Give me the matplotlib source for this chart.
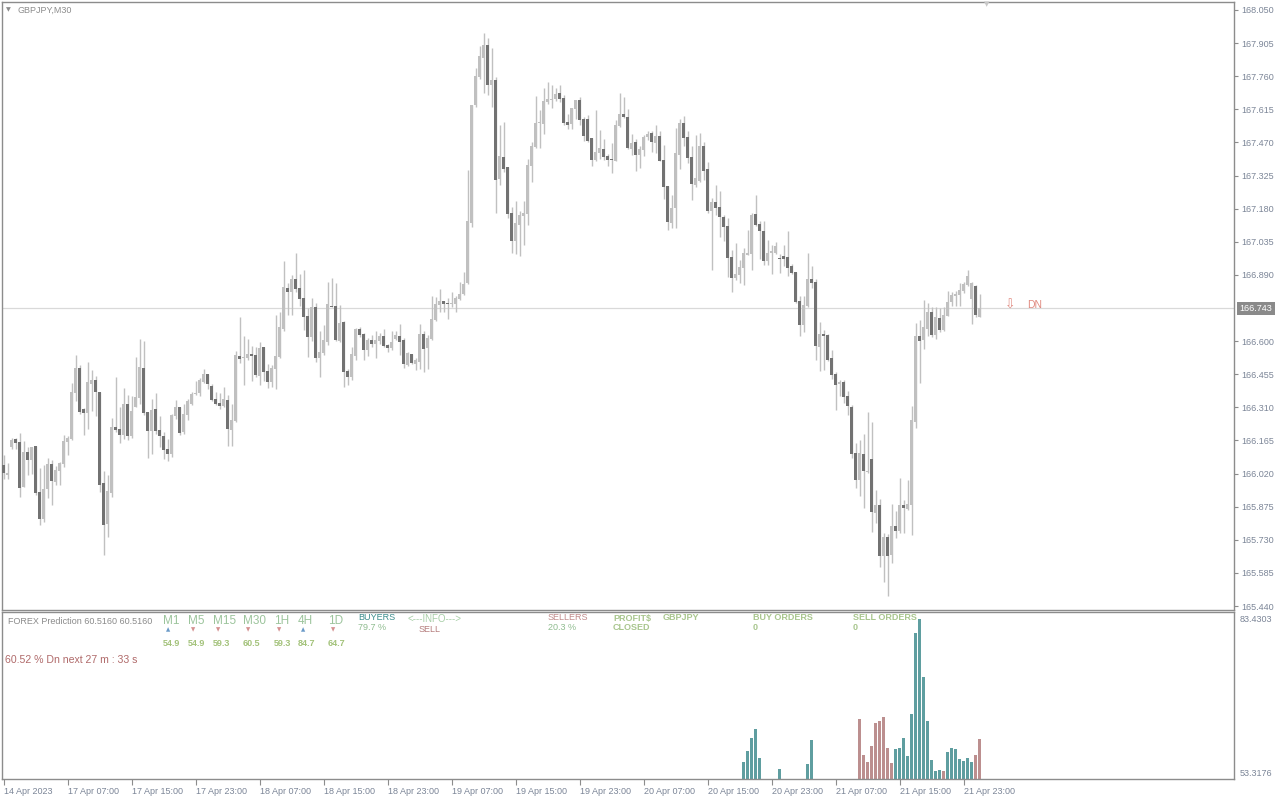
import numpy as np
import matplotlib
matplotlib.use("Agg")
import matplotlib.pyplot as plt

plt.rcParams['font.family'] = ['Liberation Sans', 'DejaVu Sans']

# GBPJPY M30 candles (index 0 = 14 Apr 23:00)
opens = [
    166.057, 166.015, 166.138, 166.173, 166.158, 165.962, 166.114, 166.079, 166.141, 165.939,
    165.822, 165.954, 166.062, 165.983, 166.032, 166.062, 166.159, 166.171, 166.374, 166.482,
    166.303, 166.285, 166.412, 166.430, 166.377, 165.978, 165.799, 165.936, 166.224, 166.215,
    166.189, 166.324, 166.184, 166.311, 166.351, 166.482, 166.289, 166.206, 166.303, 166.211,
    166.184, 166.127, 166.105, 166.272, 166.311, 166.202, 166.276, 166.324, 166.368, 166.373,
    166.421, 166.456, 166.403, 166.346, 166.329, 166.316, 166.342, 166.211, 166.250, 166.535,
    166.527, 166.526, 166.543, 166.539, 166.448, 166.574, 166.469, 166.422, 166.477, 166.530,
    166.652, 166.832, 166.816, 166.871, 166.832, 166.788, 166.709, 166.617, 166.749, 166.527,
    166.549, 166.597, 166.753, 166.753, 166.600, 166.683, 166.469, 166.444, 166.534, 166.652,
    166.631, 166.561, 166.604, 166.588, 166.600, 166.622, 166.582, 166.569, 166.609, 166.622,
    166.604, 166.495, 166.543, 166.499, 166.508, 166.631, 166.569, 166.609, 166.692, 166.758,
    166.775, 166.766, 166.763, 166.763, 166.784, 166.806, 166.853, 167.117, 167.634, 167.756,
    167.841, 167.896, 167.721, 167.743, 167.309, 167.406, 167.362, 167.161, 167.038, 167.108,
    167.147, 167.156, 167.366, 167.450, 167.555, 167.550, 167.647, 167.657, 167.660, 167.686,
    167.664, 167.559, 167.550, 167.616, 167.656, 167.572, 167.572, 167.489, 167.393, 167.423,
    167.441, 167.410, 167.397, 167.388, 167.542, 167.594, 167.581, 167.441, 167.472, 167.415,
    167.437, 167.493, 167.511, 167.467, 167.498, 167.393, 167.279, 167.117, 167.182, 167.415,
    167.555, 167.493, 167.406, 167.283, 167.301, 167.454, 167.353, 167.169, 167.209, 167.187,
    167.143, 167.104, 166.968, 166.877, 166.890, 166.921, 166.979, 166.982, 167.157, 167.115,
    167.083, 166.951, 166.986, 166.986, 166.964, 166.973, 166.969, 166.929, 166.903, 166.776,
    166.671, 166.754, 166.872, 166.859, 166.575, 166.631, 166.627, 166.526, 166.456, 166.412,
    166.421, 166.360, 166.312, 166.110, 165.992, 166.106, 166.027, 166.084, 165.848, 165.883,
    165.659, 165.742, 165.664, 165.791, 165.769, 165.883, 165.865, 165.883, 166.246, 166.623,
    166.605, 166.653, 166.728, 166.627, 166.702, 166.649, 166.710, 166.772, 166.798, 166.802,
    166.820, 166.846, 166.785, 166.842, 166.707,
]
highs = [
    166.101, 166.065, 166.174, 166.177, 166.197, 166.162, 166.138, 166.138, 166.141, 166.043,
    166.057, 166.089, 166.079, 166.053, 166.072, 166.189, 166.184, 166.416, 166.539, 166.497,
    166.307, 166.508, 166.473, 166.447, 166.377, 166.031, 166.014, 166.265, 166.443, 166.313,
    166.395, 166.364, 166.360, 166.530, 166.609, 166.600, 166.289, 166.346, 166.373, 166.272,
    166.202, 166.171, 166.281, 166.342, 166.311, 166.324, 166.346, 166.377, 166.425, 166.438,
    166.478, 166.456, 166.412, 166.377, 166.373, 166.399, 166.364, 166.324, 166.557, 166.706,
    166.622, 166.609, 166.579, 166.575, 166.597, 166.574, 166.502, 166.495, 166.714, 166.728,
    166.950, 166.853, 166.889, 166.985, 166.892, 166.911, 166.743, 166.787, 166.769, 166.644,
    166.670, 166.857, 166.877, 166.855, 166.758, 166.690, 166.480, 166.575, 166.658, 166.661,
    166.635, 166.615, 166.626, 166.644, 166.634, 166.652, 166.587, 166.644, 166.644, 166.673,
    166.612, 166.553, 166.543, 166.524, 166.674, 166.644, 166.626, 166.798, 166.794, 166.828,
    166.775, 166.787, 166.816, 166.798, 166.860, 166.901, 167.349, 167.634, 167.794, 167.892,
    167.948, 167.926, 167.882, 167.758, 167.546, 167.561, 167.362, 167.188, 167.213, 167.169,
    167.213, 167.397, 167.473, 167.674, 167.612, 167.707, 167.734, 167.721, 167.707, 167.721,
    167.677, 167.593, 167.622, 167.656, 167.669, 167.582, 167.590, 167.489, 167.612, 167.524,
    167.485, 167.419, 167.466, 167.568, 167.686, 167.669, 167.616, 167.507, 167.485, 167.455,
    167.502, 167.520, 167.520, 167.546, 167.520, 167.461, 167.280, 167.239, 167.534, 167.571,
    167.585, 167.520, 167.455, 167.502, 167.511, 167.473, 167.385, 167.225, 167.283, 167.258,
    167.152, 167.140, 166.999, 167.029, 166.956, 167.007, 167.087, 167.160, 167.240, 167.124,
    167.126, 167.043, 167.021, 167.036, 166.982, 167.021, 167.083, 166.938, 166.903, 166.798,
    166.798, 166.986, 166.929, 166.872, 166.684, 166.649, 166.631, 166.561, 166.465, 166.430,
    166.430, 166.382, 166.320, 166.153, 166.167, 166.193, 166.288, 166.246, 165.948, 165.909,
    165.760, 165.755, 165.887, 165.856, 166.001, 165.904, 165.992, 166.316, 166.678, 166.693,
    166.780, 166.767, 166.748, 166.748, 166.745, 166.751, 166.820, 166.815, 166.820, 166.853,
    166.861, 166.912, 166.861, 166.845, 166.807,
]
lows = [
    165.995, 165.995, 166.127, 166.127, 165.919, 165.960, 166.014, 166.018, 165.926, 165.795,
    165.809, 165.914, 165.882, 165.968, 165.971, 166.050, 166.103, 166.167, 166.338, 166.281,
    166.189, 166.216, 166.295, 166.273, 165.940, 165.665, 165.743, 165.919, 166.202, 166.155,
    166.171, 166.167, 166.177, 166.311, 166.324, 166.276, 166.088, 166.105, 166.193, 166.136,
    166.084, 166.075, 166.092, 166.259, 166.189, 166.193, 166.254, 166.320, 166.364, 166.360,
    166.416, 166.390, 166.338, 166.320, 166.303, 166.311, 166.141, 166.141, 166.246, 166.506,
    166.408, 166.517, 166.425, 166.444, 166.407, 166.425, 166.396, 166.400, 166.390, 166.524,
    166.644, 166.714, 166.714, 166.816, 166.755, 166.648, 166.531, 166.600, 166.509, 166.444,
    166.539, 166.585, 166.749, 166.600, 166.597, 166.400, 166.407, 166.429, 166.517, 166.619,
    166.517, 166.536, 166.574, 166.524, 166.587, 166.574, 166.552, 166.561, 166.604, 166.539,
    166.483, 166.492, 166.499, 166.473, 166.480, 166.463, 166.480, 166.604, 166.688, 166.728,
    166.728, 166.699, 166.750, 166.728, 166.778, 166.801, 166.850, 167.101, 167.626, 167.750,
    167.685, 167.677, 167.626, 167.159, 167.283, 167.342, 167.140, 166.988, 166.980, 166.974,
    167.020, 167.108, 167.298, 167.447, 167.447, 167.509, 167.638, 167.622, 167.653, 167.648,
    167.546, 167.531, 167.531, 167.572, 167.546, 167.476, 167.473, 167.368, 167.388, 167.397,
    167.393, 167.368, 167.337, 167.388, 167.539, 167.575, 167.441, 167.415, 167.346, 167.358,
    167.412, 167.480, 167.428, 167.425, 167.388, 167.222, 167.086, 167.096, 167.096, 167.353,
    167.455, 167.380, 167.218, 167.276, 167.298, 167.305, 167.159, 166.911, 167.152, 167.057,
    167.038, 166.882, 166.816, 166.868, 166.853, 166.846, 166.977, 166.912, 167.102, 166.959,
    166.934, 166.934, 166.894, 166.982, 166.900, 166.929, 166.886, 166.894, 166.769, 166.623,
    166.640, 166.751, 166.832, 166.518, 166.469, 166.474, 166.512, 166.434, 166.299, 166.360,
    166.328, 166.277, 166.090, 165.957, 165.922, 165.869, 166.021, 165.764, 165.802, 165.609,
    165.545, 165.484, 165.627, 165.737, 165.761, 165.758, 165.861, 165.751, 166.218, 166.415,
    166.566, 166.623, 166.620, 166.610, 166.642, 166.646, 166.710, 166.754, 166.754, 166.754,
    166.811, 166.842, 166.675, 166.707, 166.707,
]
closes = [
    166.024, 166.024, 166.167, 166.155, 165.957, 166.114, 166.079, 166.136, 165.936, 165.822,
    165.952, 166.062, 165.989, 166.035, 166.068, 166.162, 166.176, 166.377, 166.482, 166.289,
    166.285, 166.421, 166.430, 166.378, 165.971, 165.795, 165.945, 166.224, 166.211, 166.189,
    166.324, 166.184, 166.294, 166.355, 166.487, 166.285, 166.206, 166.298, 166.206, 166.184,
    166.123, 166.105, 166.276, 166.311, 166.197, 166.281, 166.338, 166.368, 166.373, 166.430,
    166.456, 166.412, 166.342, 166.324, 166.316, 166.346, 166.215, 166.254, 166.539, 166.523,
    166.530, 166.543, 166.534, 166.451, 166.571, 166.466, 166.422, 166.483, 166.534, 166.661,
    166.836, 166.816, 166.874, 166.828, 166.784, 166.705, 166.617, 166.749, 166.527, 166.552,
    166.604, 166.762, 166.749, 166.604, 166.679, 166.466, 166.444, 166.543, 166.652, 166.626,
    166.561, 166.604, 166.588, 166.604, 166.622, 166.578, 166.569, 166.596, 166.626, 166.596,
    166.499, 166.547, 166.505, 166.517, 166.631, 166.565, 166.613, 166.696, 166.762, 166.775,
    166.763, 166.763, 166.766, 166.787, 166.807, 166.850, 167.126, 167.634, 167.761, 167.848,
    167.896, 167.721, 167.743, 167.305, 167.410, 167.353, 167.156, 167.038, 167.117, 167.152,
    167.161, 167.371, 167.454, 167.555, 167.559, 167.651, 167.660, 167.660, 167.682, 167.660,
    167.555, 167.546, 167.620, 167.656, 167.568, 167.498, 167.476, 167.393, 167.428, 167.445,
    167.406, 167.393, 167.393, 167.546, 167.594, 167.581, 167.445, 167.467, 167.415, 167.441,
    167.493, 167.507, 167.472, 167.498, 167.388, 167.274, 167.121, 167.182, 167.423, 167.555,
    167.489, 167.401, 167.288, 167.314, 167.454, 167.345, 167.169, 167.209, 167.182, 167.143,
    167.099, 166.963, 166.876, 166.894, 166.925, 166.986, 166.986, 167.153, 167.110, 167.084,
    166.951, 166.986, 166.996, 167.018, 166.961, 166.960, 166.921, 166.899, 166.772, 166.671,
    166.759, 166.872, 166.856, 166.579, 166.631, 166.623, 166.518, 166.452, 166.408, 166.421,
    166.356, 166.316, 166.106, 165.992, 166.110, 166.031, 166.031, 165.852, 165.883, 165.659,
    165.742, 165.659, 165.791, 165.769, 165.883, 165.869, 165.887, 166.255, 166.623, 166.601,
    166.662, 166.728, 166.627, 166.706, 166.649, 166.715, 166.772, 166.802, 166.807, 166.824,
    166.850, 166.886, 166.855, 166.715, 166.743,
]

price_ticks = [168.050, 167.905, 167.760, 167.615, 167.470, 167.325, 167.180, 167.035,
               166.890, 166.600, 166.455, 166.310, 166.165, 166.020, 165.875, 165.730,
               165.585, 165.440]
last_price = 166.743

time_labels = ["14 Apr 2023", "17 Apr 07:00", "17 Apr 15:00", "17 Apr 23:00", "18 Apr 07:00",
               "18 Apr 15:00", "18 Apr 23:00", "19 Apr 07:00", "19 Apr 15:00", "19 Apr 23:00",
               "20 Apr 07:00", "20 Apr 15:00", "20 Apr 23:00", "21 Apr 07:00", "21 Apr 15:00",
               "21 Apr 23:00"]
bars_per_label = 16

# indicator histogram (lower window)
hist_index = [185, 186, 187, 188, 189, 194, 201, 202,
              214, 215, 216, 217, 218, 219, 220, 221, 222,
              223, 224, 225, 226, 227, 228, 229, 230, 231, 232, 233, 234, 235,
              236, 237, 238, 239, 240, 241, 242, 243, 244]
hist_value = [55.48, 57.65, 60.21, 61.78, 56.27, 54.10, 55.09, 59.81,
              63.75, 56.86, 55.48, 58.63, 62.96, 63.35, 64.14, 58.24, 55.29,
              58.04, 58.24, 60.21, 56.66, 64.73, 80.67, 83.43, 72.00, 63.35, 55.88, 53.71, 53.91, 53.71,
              57.45, 58.24, 58.04, 56.07, 55.68, 56.27, 55.48, 56.86, 60.01]
hist_side = ["b"] * 8 + ["s"] * 9 + ["b"] * 12 + ["s"] + ["b"] * 7 + ["s", "s"]
hist_ticks = [83.4303, 53.3176]

tf_names = ["M1", "M5", "M15", "M30", "1H", "4H", "1D"]
tf_dir = ["up", "dn", "dn", "dn", "dn", "up", "dn"]
tf_score = ["54.9", "54.9", "59.3", "60.5", "59.3", "84.7", "64.7"]

W, H = 1280, 800
def fx(x):
    return x / W
def fy(y):
    return 1 - y / H

UP_C = "#c0c0c0"
DN_C = "#727272"
FRAME = "#8c8c8c"
LBL = "#7b8597"

fig = plt.figure(figsize=(12.8, 8), dpi=100)
fig.patch.set_facecolor("white")

ax = fig.add_axes([fx(2.3), fy(610), (1234 - 2.3) / W, (610 - 2.3) / H])
ax2 = fig.add_axes([fx(2.3), fy(779), (1234 - 2.3) / W, (779 - 612.3) / H])

n = len(opens)
idx = np.arange(n)
o = np.array(opens); c = np.array(closes)
hi = np.array(highs); lo = np.array(lows)
up = c >= o
body_bot = np.minimum(o, c)
body_h = np.maximum(np.abs(c - o), 0.0045)
cols = np.where(up, UP_C, DN_C)

ax.axhline(last_price, color="#d9d9d9", lw=0.9, zorder=1)
ax.vlines(idx, lo, hi, colors=UP_C, lw=1.0, zorder=2)
ax.bar(idx, body_h, bottom=body_bot, width=0.75, color=cols, linewidth=0, zorder=3)

x_lo, x_hi = -0.3, 307.6
ax.set_xlim(x_lo, x_hi)
ax.set_ylim(165.4226, 168.0837)
ax.yaxis.tick_right()
ax.set_yticks(price_ticks)
ax.set_yticklabels(["%.3f" % v for v in price_ticks])
ax.tick_params(axis="y", direction="out", length=3, width=0.8, color=FRAME,
               labelcolor=LBL, labelsize=6.5, pad=2)
ax.set_xticks([])
for s in ax.spines.values():
    s.set_color(FRAME)
    s.set_linewidth(1.0)

# current price box
ax.annotate("%.3f" % last_price, xy=(1.0, last_price), xycoords=("axes fraction", "data"),
            xytext=(4, 0), textcoords="offset points", ha="left", va="center",
            fontsize=6.5, color="white",
            bbox=dict(boxstyle="square,pad=0.25", fc="#8a8a8a", ec="none"))

# signal arrow
fig.text(fx(1005), fy(305), "\u21e9", fontsize=9, color="#e08a80", ha="left", va="center",
         family=["DejaVu Sans"])
fig.text(fx(1027), fy(305), "DN", fontsize=7.5, color="#e08a80", ha="left", va="center")

# title and shift marker
fig.text(fx(6), fy(10), "\u25bc", fontsize=4.5, color="#8c8c8c", ha="left", va="center",
         family=["DejaVu Sans"])
fig.text(fx(18), fy(10), "GBPJPY,M30", fontsize=6.5, color="#8c8c8c", ha="left", va="center")
fig.text(fx(987), fy(4), "\u25bc", fontsize=5, color="#c8c8c8", ha="center", va="center",
         family=["DejaVu Sans"])

# lower window histogram
hcols = ["#5f9ea0" if s == "b" else "#bc8f8f" for s in hist_side]
ax2.bar(hist_index, hist_value, width=0.72, color=hcols, linewidth=0)
ax2.set_xlim(x_lo, x_hi)
ax2.set_ylim(52.08, 84.74)
ax2.yaxis.tick_right()
ax2.set_yticks(hist_ticks)
ax2.set_yticklabels(["%.4f" % v for v in hist_ticks])
ax2.tick_params(axis="y", length=0, labelcolor=LBL, labelsize=6.5, pad=4)
ax2.set_xticks(np.arange(len(time_labels)) * bars_per_label)
ax2.set_xticklabels(time_labels, ha="left")
ax2.tick_params(axis="x", direction="out", length=4, width=0.8, color=FRAME,
                labelcolor=LBL, labelsize=6.5, pad=2)
for s in ax2.spines.values():
    s.set_color(FRAME)
    s.set_linewidth(1.0)

# indicator labels
fig.text(fx(8), fy(621), "FOREX Prediction 60.5160 60.5160", fontsize=6.5, color="#8a8a8a",
         ha="left", va="center")
tf_x = [163, 188, 213, 243, 274, 298, 328]
for x, name, d, sc in zip(tf_x, tf_names, tf_dir, tf_score):
    fig.text(fx(x), fy(621), name, fontsize=8.5, color="#9cc49c", ha="left", va="center")
    if d == "up":
        fig.text(fx(x + 5), fy(630), "\u25b2", fontsize=4, color="#6a9ac8", ha="center",
                 va="center", family=["DejaVu Sans"])
    else:
        fig.text(fx(x + 5), fy(630), "\u25bc", fontsize=4, color="#d49090", ha="center",
                 va="center", family=["DejaVu Sans"])
    fig.text(fx(x), fy(643), sc, fontsize=6.5, color="#a3c27a", ha="left", va="center",
             fontweight="bold")

fig.text(fx(358), fy(618), "BUYERS", fontsize=6.5, color="#3a8c8c", ha="left", va="center")
fig.text(fx(358), fy(628), "79.7 %", fontsize=6.5, color="#8fbc8f", ha="left", va="center")
fig.text(fx(408), fy(619), "<---INFO--->", fontsize=7, color="#a8cfa8", ha="left", va="center")
fig.text(fx(419), fy(630), "SELL", fontsize=6.5, color="#b47c7c", ha="left", va="center")
fig.text(fx(548), fy(618), "SELLERS", fontsize=6.5, color="#c08a8a", ha="left", va="center")
fig.text(fx(548), fy(628), "20.3 %", fontsize=6.5, color="#8fbc8f", ha="left", va="center")

OK_C = "#a9c68e"
for x, top, bottom in [(613, "PROFIT$", "CLOSED"), (663, "GBPJPY", ""),
                       (753, "BUY ORDERS", "0"), (853, "SELL ORDERS", "0")]:
    fig.text(fx(x), fy(618), top, fontsize=6.5, color=OK_C, ha="left", va="center",
             fontweight="bold")
    if bottom:
        fig.text(fx(x), fy(628), bottom, fontsize=6.5, color=OK_C, ha="left", va="center",
                 fontweight="bold")

fig.text(fx(5), fy(660), "60.52 % Dn next 27 m : 33 s", fontsize=7.6, color="#b06a6a",
         ha="left", va="center")

fig.savefig("out.png", dpi=100)
